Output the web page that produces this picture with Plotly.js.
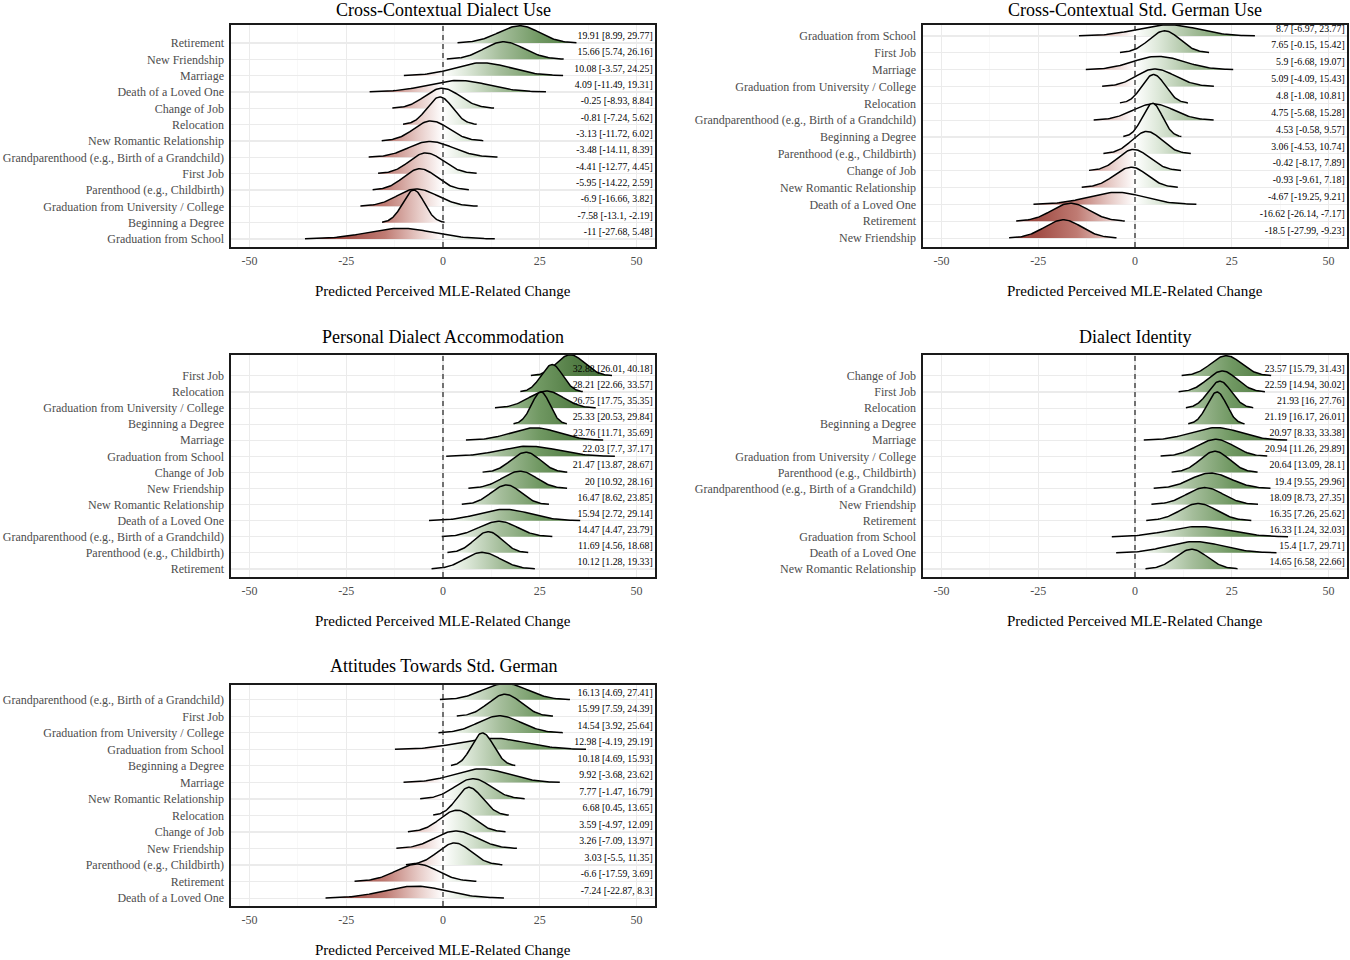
<!DOCTYPE html>
<html><head><meta charset="utf-8">
<script src="https://cdn.plot.ly/plotly-3.0.1.min.js"></script>
<style>html,body{margin:0;padding:0;background:#fff}</style>
</head><body>
<div id="chart" style="width:1350px;height:960px"></div>
<script>
// ---------- DATA (rows listed top to bottom) ----------
const xAxisTitle = "Predicted Perceived MLE-Related Change";
const xTickVals = [-50, -25, 0, 25, 50];
const xTickText = ["-50", "-25", "0", "25", "50"];

const p1Title = "Cross-Contextual Dialect Use";
const p1Events = ["Retirement","New Friendship","Marriage","Death of a Loved One","Change of Job","Relocation","New Romantic Relationship","Grandparenthood (e.g., Birth of a Grandchild)","First Job","Parenthood (e.g., Childbirth)","Graduation from University / College","Beginning a Degree","Graduation from School"];
const p1Mean = [19.91, 15.66, 10.08, 4.09, -0.25, -0.81, -3.13, -3.48, -4.41, -5.95, -6.9, -7.58, -11];
const p1Low  = [8.99, 5.74, -3.57, -11.49, -8.93, -7.24, -11.72, -14.11, -12.77, -14.22, -16.66, -13.1, -27.68];
const p1High = [29.77, 26.16, 24.25, 19.31, 8.84, 5.62, 6.02, 8.39, 4.45, 2.59, 3.82, -2.19, 5.48];

const p2Title = "Cross-Contextual Std. German Use";
const p2Events = ["Graduation from School","First Job","Marriage","Graduation from University / College","Relocation","Grandparenthood (e.g., Birth of a Grandchild)","Beginning a Degree","Parenthood (e.g., Childbirth)","Change of Job","New Romantic Relationship","Death of a Loved One","Retirement","New Friendship"];
const p2Mean = [8.7, 7.65, 5.9, 5.09, 4.8, 4.75, 4.53, 3.06, -0.42, -0.93, -4.67, -16.62, -18.5];
const p2Low  = [-6.97, -0.15, -6.68, -4.09, -1.08, -5.68, -0.58, -4.53, -8.17, -9.61, -19.25, -26.14, -27.99];
const p2High = [23.77, 15.42, 19.07, 15.43, 10.81, 15.28, 9.57, 10.74, 7.89, 7.18, 9.21, -7.17, -9.23];

const p3Title = "Personal Dialect Accommodation";
const p3Events = ["First Job","Relocation","Graduation from University / College","Beginning a Degree","Marriage","Graduation from School","Change of Job","New Friendship","New Romantic Relationship","Death of a Loved One","Grandparenthood (e.g., Birth of a Grandchild)","Parenthood (e.g., Childbirth)","Retirement"];
const p3Mean = [32.88, 28.21, 26.75, 25.33, 23.76, 22.03, 21.47, 20, 16.47, 15.94, 14.47, 11.69, 10.12];
const p3Low  = [26.01, 22.66, 17.75, 20.53, 11.71, 7.7, 13.87, 10.92, 8.62, 2.72, 4.47, 4.56, 1.28];
const p3High = [40.18, 33.57, 35.35, 29.84, 35.69, 37.17, 28.67, 28.16, 23.85, 29.14, 23.79, 18.68, 19.33];

const p4Title = "Dialect Identity";
const p4Events = ["Change of Job","First Job","Relocation","Beginning a Degree","Marriage","Graduation from University / College","Parenthood (e.g., Childbirth)","Grandparenthood (e.g., Birth of a Grandchild)","New Friendship","Retirement","Graduation from School","Death of a Loved One","New Romantic Relationship"];
const p4Mean = [23.57, 22.59, 21.93, 21.19, 20.97, 20.94, 20.64, 19.4, 18.09, 16.35, 16.33, 15.4, 14.65];
const p4Low  = [15.79, 14.94, 16, 16.17, 8.33, 11.26, 13.09, 9.55, 8.73, 7.26, 1.24, 1.7, 6.58];
const p4High = [31.43, 30.02, 27.76, 26.01, 33.38, 29.89, 28.1, 29.96, 27.35, 25.62, 32.03, 29.71, 22.66];

const p5Title = "Attitudes Towards Std. German";
const p5Events = ["Grandparenthood (e.g., Birth of a Grandchild)","First Job","Graduation from University / College","Graduation from School","Beginning a Degree","Marriage","New Romantic Relationship","Relocation","Change of Job","New Friendship","Parenthood (e.g., Childbirth)","Retirement","Death of a Loved One"];
const p5Mean = [16.13, 15.99, 14.54, 12.98, 10.18, 9.92, 7.77, 6.68, 3.59, 3.26, 3.03, -6.6, -7.24];
const p5Low  = [4.69, 7.59, 3.92, -4.19, 4.69, -3.68, -1.47, 0.45, -4.97, -7.09, -5.5, -17.59, -22.87];
const p5High = [27.41, 24.39, 25.64, 29.19, 15.93, 23.62, 16.79, 13.65, 12.09, 13.97, 11.35, 3.69, 8.3];

// ---------- BUILD ----------
const panels = [
  {title:p1Title, events:p1Events, mean:p1Mean, low:p1Low, high:p1High},
  {title:p2Title, events:p2Events, mean:p2Mean, low:p2Low, high:p2High},
  {title:p3Title, events:p3Events, mean:p3Mean, low:p3Low, high:p3High},
  {title:p4Title, events:p4Events, mean:p4Mean, low:p4Low, high:p4High},
  {title:p5Title, events:p5Events, mean:p5Mean, low:p5Low, high:p5High}
];
const W = 1350, H = 960;
const geom = [
  {l:231, r:655,  t:25,  b:247, yr:[-0.49, 13.1], ty:10,  ay:291},
  {l:923, r:1347, t:25,  b:247, yr:[-0.53, 12.65], ty:10, ay:291},
  {l:231, r:655,  t:355, b:577, yr:[-0.5, 13.3],  ty:337, ay:621},
  {l:923, r:1347, t:355, b:577, yr:[-0.5, 13.3],  ty:337, ay:621},
  {l:231, r:655,  t:685, b:906, yr:[-0.48, 12.9], ty:666, ay:950}
];
const XR = [-54.8, 54.8];
const FONT = "Liberation Serif, 'DejaVu Serif', serif";
const gStart = -40, gStop = 40;
function gf(v){ return (v - gStart) / (gStop - gStart); }
const gradScale = [
  [gf(-40), '#86302a'], [gf(-25), '#a24e46'], [gf(-15), '#bf7b73'], [gf(-6), '#e8cdc9'],
  [gf(0), '#ffffff'],
  [gf(6), '#dde8d9'], [gf(15), '#a4bd9a'], [gf(25), '#709862'], [gf(34), '#537d45'], [gf(40), '#48723e']
];

const traces = [];
const annotations = [];
const shapes = [];
const layout = {
  width: W, height: H, margin: {l:0, r:0, t:0, b:0},
  paper_bgcolor: '#fff', plot_bgcolor: '#fff', showlegend: false,
  font: {family: FONT}
};

panels.forEach((p, k) => {
  const g = geom[k];
  const n = p.events.length;
  const xa = k === 0 ? 'x' : 'x' + (k + 1);
  const ya = k === 0 ? 'y' : 'y' + (k + 1);
  const xName = k === 0 ? 'xaxis' : 'xaxis' + (k + 1);
  const yName = k === 0 ? 'yaxis' : 'yaxis' + (k + 1);

  const sdL = p.mean.map((m, i) => Math.max(0.3, (m - p.low[i]) / 1.96));
  const sdR = p.mean.map((m, i) => Math.max(0.3, (p.high[i] - m) / 1.96));
  const sdAvg = sdL.map((s, i) => (s + sdR[i]) / 2);
  const sdMin = Math.min(...sdAvg);

  for (let i = 0; i < n; i++) {
    const base = n - 1 - i;
    const hgt = 2 * sdMin / sdAvg[i];
    const x0 = p.mean[i] - 2.9 * sdL[i], x1 = p.mean[i] + 2.9 * sdR[i];
    const xs = [], ys = [];
    const N = 90;
    for (let j = 0; j <= N; j++) {
      const x = x0 + (x1 - x0) * j / N;
      const s = x < p.mean[i] ? sdL[i] : sdR[i];
      const z = (x - p.mean[i]) / s;
      xs.push(x); ys.push(base + hgt * Math.exp(-0.5 * z * z));
    }
    traces.push({
      type: 'scatter', mode: 'lines', xaxis: xa, yaxis: ya,
      x: xs.concat([x1, x0]), y: ys.concat([base, base]),
      fill: 'toself', line: {width: 0, color: 'rgba(0,0,0,0)'},
      fillcolor: '#ffffff',
      fillgradient: {type: 'horizontal', colorscale: gradScale, start: gStart, stop: gStop},
      hoverinfo: 'skip'
    });
    traces.push({
      type: 'scatter', mode: 'lines', xaxis: xa, yaxis: ya,
      x: xs, y: ys, line: {width: 1.5, color: '#000'}, hoverinfo: 'skip'
    });
  }
  traces.push({
    type: 'scatter', mode: 'text', xaxis: xa, yaxis: ya,
    x: p.mean.map(() => XR[1] - 0.6),
    y: p.mean.map((m, i) => n - 1 - i + 0.4),
    text: p.mean.map((m, i) => `${m} [${p.low[i]}, ${p.high[i]}]`),
    textposition: 'middle left',
    textfont: {family: FONT, size: 9.8, color: '#000'},
    cliponaxis: false, hoverinfo: 'skip'
  });

  layout[xName] = {
    domain: [g.l / W, g.r / W], range: XR, anchor: ya,
    tickmode: 'array', tickvals: xTickVals, ticktext: xTickText,
    showgrid: true, gridcolor: '#ebebeb', gridwidth: 1.1,
    minor: {tickmode: 'array', tickvals: [-37.5, -12.5, 12.5, 37.5], showgrid: true, gridcolor: '#f3f3f3', gridwidth: 0.6},
    zeroline: false, showline: true, mirror: true, linecolor: '#1a1a1a', linewidth: 1.6,
    ticks: '', ticklabelstandoff: 2,
    tickfont: {family: FONT, size: 12, color: '#4d4d4d'}, fixedrange: true
  };
  layout[yName] = {
    domain: [1 - g.b / H, 1 - g.t / H], range: g.yr, anchor: xa,
    tickmode: 'array', tickvals: p.events.map((e, i) => n - 1 - i), ticktext: p.events,
    showgrid: true, gridcolor: '#ebebeb', gridwidth: 1.1,
    zeroline: false, showline: true, mirror: true, linecolor: '#1a1a1a', linewidth: 1.6,
    ticks: '', ticklabelstandoff: 3,
    tickfont: {family: FONT, size: 12, color: '#4d4d4d'}, fixedrange: true
  };
  shapes.push({
    type: 'line', xref: xa, yref: ya + ' domain', x0: 0, x1: 0, y0: 0, y1: 1,
    line: {color: '#222', width: 1.2, dash: '5px,4px'}, layer: 'above'
  });
  annotations.push({
    xref: 'paper', yref: 'paper', x: (g.l + g.r) / 2 / W, y: 1 - g.ty / H,
    xanchor: 'center', yanchor: 'middle', showarrow: false,
    text: p.title, font: {family: FONT, size: 18, color: '#000'}
  });
  annotations.push({
    xref: 'paper', yref: 'paper', x: (g.l + g.r) / 2 / W, y: 1 - g.ay / H,
    xanchor: 'center', yanchor: 'middle', showarrow: false,
    text: xAxisTitle, font: {family: FONT, size: 15, color: '#000'}
  });
});
layout.annotations = annotations;
layout.shapes = shapes;
Plotly.newPlot('chart', traces, layout, {staticPlot: true, displayModeBar: false});
</script>
</body></html>
